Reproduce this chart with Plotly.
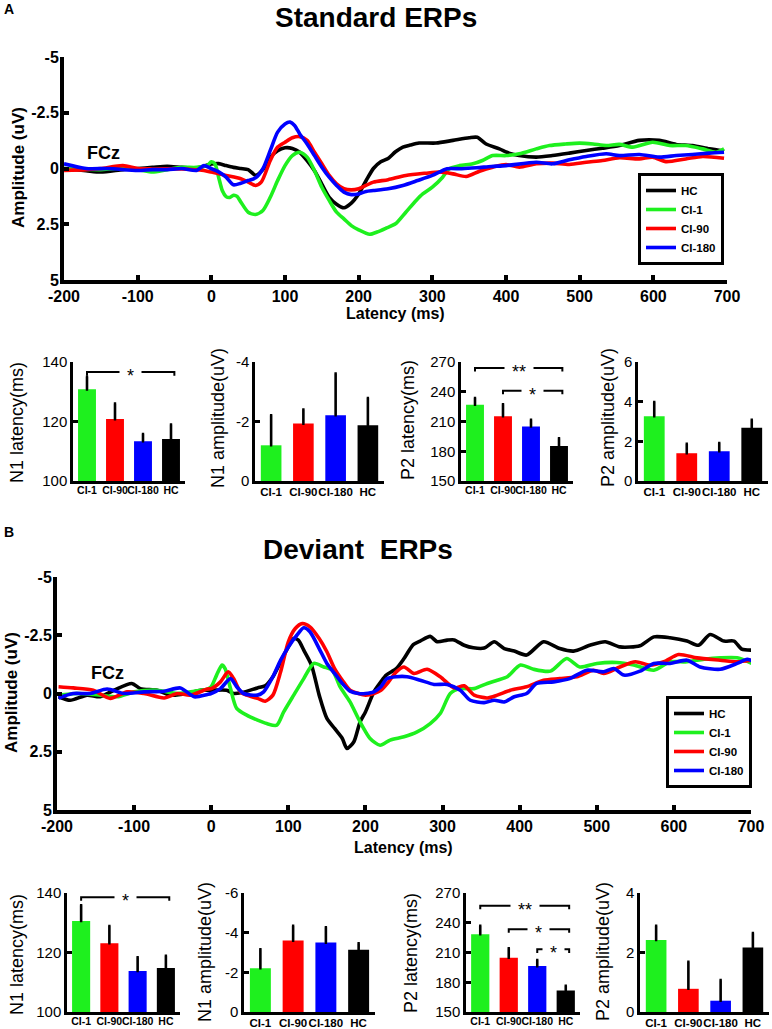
import plotly.graph_objects as go

W, H = 772, 1029
GREEN, RED, BLUE, BLACK = "#1ef01e", "#ff0000", "#0000ff", "#000000"

# ---------------- Panel A: Standard ERPs (FCz) ----------------
A_hc_t = [-200, -170, -150, -120, -100, -80, -60, -40, -20, 0, 10, 20, 30, 40, 50, 60, 70, 80, 90, 100, 110, 120,
          130, 140, 150, 160, 170, 180, 190, 200, 210, 220, 230, 240, 250, 260, 270, 282, 305, 328, 350, 361, 373,
          391, 404, 418, 441, 463, 486, 509, 531, 554, 581, 608, 631, 653, 676, 696]
A_hc = [0.0, 0.1, 0.16, 0.05, 0.0, -0.05, -0.1, -0.05, -0.02, -0.2, -0.22, -0.13, -0.05, 0.0, 0.05, 0.3, 0.05,
        -0.5, -0.8, -0.93, -0.9, -0.73, -0.35, 0.1, 0.7, 1.29, 1.6, 1.76, 1.55, 1.14, 0.55, 0.0, -0.3, -0.45,
        -0.75, -0.96, -1.05, -1.14, -1.14, -1.26, -1.38, -1.4, -1.1, -0.88, -0.69, -0.58, -0.51, -0.58, -0.69,
        -0.81, -0.91, -1.03, -1.26, -1.26, -1.08, -1.03, -0.88, -0.78]

A_ci1_t = [-200, -150, -130, -100, -80, -60, -40, -20, -5, 0, 5, 10, 15, 20, 25, 30, 35, 40, 50, 60, 70, 80, 90,
           100, 110, 120, 130, 140, 150, 160, 170, 180, 190, 200, 215, 225, 237, 250, 264, 278, 287, 300, 314, 323,
           337, 355, 368, 382, 400, 418, 441, 459, 481, 500, 518, 536, 554, 572, 599, 622, 644, 667, 685, 696]
A_ci1 = [0.0, 0.05, 0.0, 0.05, 0.16, 0.05, -0.05, -0.05, -0.15, -0.3, -0.2, 0.4, 1.0, 1.26, 1.3, 1.2, 1.25, 1.5,
         1.96, 2.06, 1.88, 1.29, 0.54, -0.13, -0.58, -0.73, -0.51, 0.09, 0.84, 1.43, 1.96, 2.26, 2.56, 2.75, 2.95,
         2.85, 2.68, 2.48, 1.96, 1.43, 1.14, 0.84, 0.39, 0.01, -0.13, -0.21, -0.36, -0.58, -0.58, -0.66, -0.88,
         -1.03, -1.1, -1.14, -1.1, -1.03, -1.08, -0.96, -1.18, -1.03, -1.03, -0.88, -0.73, -0.88]

A_ci90_t = [-200, -170, -150, -120, -100, -80, -40, -10, 0, 20, 40, 50, 60, 68, 80, 90, 100, 110, 120, 130, 140,
            150, 160, 170, 180, 190, 200, 210, 220, 240, 264, 291, 310, 328, 346, 364, 382, 400, 418, 441, 463, 486,
            509, 531, 554, 581, 599, 617, 644, 667, 696]
A_ci90 = [0.09, 0.05, 0.0, -0.13, 0.0, 0.02, 0.02, 0.09, 0.16, 0.31, 0.46, 0.61, 0.76, 0.6, -0.36, -0.96, -1.18,
          -1.38, -1.43, -1.26, -0.73, -0.21, 0.31, 0.69, 0.91, 0.96, 0.91, 0.76, 0.61, 0.5, 0.31, 0.21, 0.16, 0.24,
          0.36, 0.12, -0.06, -0.18, -0.06, -0.21, -0.24, -0.18, -0.28, -0.36, -0.48, -0.43, -0.51, -0.31, -0.43,
          -0.54, -0.46]

A_ci180_t = [-200, -170, -140, -100, -80, -60, -40, -20, -10, 0, 10, 20, 30, 40, 50, 60, 70, 80, 90, 100, 107, 113,
             120, 130, 140, 150, 160, 170, 180, 190, 200, 210, 220, 240, 260, 280, 300, 320, 340, 360, 380, 400, 441,
             463, 486, 509, 536, 554, 581, 608, 631, 653, 676, 696]
A_ci180 = [-0.21, 0.0, 0.0, 0.09, 0.05, 0.05, 0.0, 0.09, -0.13, 0.01, 0.15, 0.39, 0.73, 0.66, 0.54, 0.42, 0.01,
           -0.81, -1.63, -2.0, -2.08, -1.93, -1.55, -1.1, -0.58, -0.06, 0.39, 0.76, 1.06, 1.17, 1.14, 1.03, 0.99,
           0.91, 0.76, 0.54, 0.31, 0.01, 0.01, -0.03, -0.09, -0.13, -0.28, -0.21, -0.39, -0.54, -0.66, -0.58, -0.63,
           -0.51, -0.58, -0.63, -0.69, -0.73]

# ---------------- Panel B: Deviant ERPs (FCz) ----------------
B_hc_t = [-198, -183, -161, -144, -126, -103, -92, -70, -53, -31, -14, 0, 20, 29, 40, 60, 70, 80, 90, 100, 107,
          113, 120, 130, 140, 150, 160, 170, 176, 185, 193, 200, 211, 220, 227, 240, 250, 262, 271, 284, 293, 306,
          315, 328, 340, 354, 367, 380, 393, 409, 431, 452, 470, 491, 511, 530, 556, 574, 595, 617, 632, 647, 665,
          678, 688, 701]
B_hc = [0.14, 0.29, 0.07, 0.14, -0.14, -0.43, -0.21, -0.14, 0.07, 0.0, -0.14, -0.14, -0.14, 0.0, -0.04, -0.24,
        -0.33, -0.72, -1.36, -2.0, -2.36, -2.29, -1.86, -1.22, 0.07, 1.07, 1.5, 1.93, 2.36, 2.07, 1.22, 0.79, -0.07,
        -0.5, -0.79, -1.07, -1.5, -2.1, -2.25, -2.45, -2.22, -2.29, -2.3, -2.07, -1.96, -1.95, -2.22, -1.93, -1.82,
        -1.65, -2.22, -1.93, -1.82, -2.07, -2.22, -2.0, -2.05, -2.43, -2.39, -2.25, -2.07, -2.53, -2.25, -2.25,
        -1.9, -1.86]

B_ci1_t = [-198, -174, -144, -122, -100, -70, -44, -22, -5, 0, 7, 14, 18, 25, 33, 46, 60, 72, 85, 94, 107, 120,
           133, 146, 157, 167, 180, 193, 206, 219, 232, 250, 267, 284, 297, 310, 323, 341, 358, 371, 384, 401, 418,
           440, 461, 478, 500, 526, 548, 574, 595, 617, 639, 660, 682, 701]
B_ci1 = [0.07, 0.0, 0.07, 0.14, -0.07, -0.14, 0.0, -0.1, -0.19, -0.29, -0.79, -1.22, -1.07, -0.21, 0.64, 0.93,
         1.14, 1.29, 1.36, 0.79, 0.07, -0.64, -1.29, -1.14, -1.0, -0.29, 0.36, 1.22, 1.93, 2.22, 2.0, 1.86, 1.65,
         1.29, 0.86, 0.0, -0.21, -0.21, -0.43, -0.57, -0.72, -1.22, -1.04, -0.96, -1.5, -1.14, -1.29, -1.33, -1.22,
         -1.0, -1.36, -1.36, -1.47, -1.53, -1.53, -1.29]

B_ci90_t = [-198, -179, -153, -131, -109, -87, -61, -44, -27, -5, 0, 12, 22, 29, 38, 46, 60, 70, 80, 90, 100, 109,
            118, 128, 140, 150, 160, 170, 180, 191, 200, 211, 220, 230, 240, 250, 263, 280, 297, 315, 328, 341, 358,
            371, 388, 409, 431, 452, 474, 496, 509, 530, 550, 569, 587, 606, 630, 660, 682, 701]
B_ci90 = [-0.29, -0.24, -0.14, 0.21, -0.07, 0.0, 0.19, 0.0, 0.07, -0.19, -0.21, -0.5, -0.93, -0.64, -0.07, 0.07,
          0.21, 0.33, 0.07, -0.93, -2.22, -2.79, -3.0, -2.86, -2.36, -1.79, -1.07, -0.57, -0.14, 0.0, 0.07, 0.0,
          -0.14, -0.5, -0.93, -1.14, -0.86, -1.04, -0.72, -0.24, -0.33, 0.07, 0.19, 0.07, -0.14, -0.29, -0.57,
          -0.64, -0.72, -1.0, -0.86, -1.14, -1.36, -1.22, -1.36, -1.67, -1.53, -1.43, -1.36, -1.43]

B_ci180_t = [-198, -179, -157, -135, -113, -87, -61, -40, -22, -5, 0, 12, 25, 33, 42, 60, 68, 80, 90, 100, 111,
             120, 128, 140, 150, 160, 170, 180, 191, 200, 211, 220, 228, 240, 254, 271, 289, 306, 323, 336, 354, 367,
             380, 393, 409, 422, 444, 465, 487, 509, 522, 535, 556, 574, 595, 617, 634, 660, 682, 695, 702]
B_ci180 = [0.19, 0.0, 0.0, -0.19, 0.0, -0.07, -0.1, -0.24, 0.14, 0.04, 0.0, -0.21, -0.64, -0.29, 0.0, 0.07, -0.07,
           -0.72, -1.43, -2.0, -2.5, -2.82, -2.65, -1.93, -1.29, -0.86, -0.43, -0.1, 0.0, 0.0, -0.07, -0.29, -0.64,
           -0.72, -0.72, -0.57, -0.39, -0.39, -0.14, 0.29, 0.39, 0.29, 0.36, 0.14, 0.0, -0.43, -0.5, -0.64, -1.0,
           -0.93, -1.07, -0.79, -0.96, -1.29, -1.29, -1.43, -1.14, -1.04, -1.29, -1.47, -1.39]

wave_x_ticks = [-200, -100, 0, 100, 200, 300, 400, 500, 600, 700]
wave_x_labels = ["-200", "-100", "0", "100", "200", "300", "400", "500", "600", "700"]
wave_y_ticks = [-5, -2.5, 0, 2.5, 5]
wave_y_labels = ["-5", "-2.5", "0", "2.5", "5"]

# ---------------- Bar charts ----------------
bar_cats = ["CI-1", "CI-90", "CI-180", "HC"]
bar_colors = [GREEN, RED, BLUE, BLACK]

A_n1_lat = [130.8, 120.8, 113.4, 114.1]
A_n1_lat_err = [4.2, 5.2, 2.4, 4.9]
A_n1_amp = [-1.2, -1.93, -2.21, -1.87]
A_n1_amp_err = [1.01, 0.47, 1.4, 0.92]
A_p2_lat = [226.9, 215.4, 205.0, 185.4]
A_p2_lat_err = [6.7, 12.0, 6.7, 7.7]
A_p2_amp = [3.27, 1.40, 1.50, 2.68]
A_p2_amp_err = [0.71, 0.47, 0.41, 0.41]

B_n1_lat = [130.6, 123.1, 113.8, 114.8]
B_n1_lat_err = [5.3, 5.8, 4.6, 4.1]
B_n1_amp = [-2.21, -3.60, -3.50, -3.14]
B_n1_amp_err = [0.95, 0.74, 0.77, 0.32]
B_p2_lat = [228.4, 204.8, 196.3, 171.6]
B_p2_lat_err = [8.5, 9.4, 6.1, 4.8]
B_p2_amp = [2.42, 0.78, 0.38, 2.17]
B_p2_amp_err = [0.48, 0.91, 0.69, 0.48]

# significance brackets: (from index, to index, level, label)
A_n1_lat_sig = [(0, 3, 136.6, "*")]
A_p2_lat_sig = [(0, 3, 263.9, "**"), (1, 3, 241.0, "*")]
B_n1_lat_sig = [(0, 3, 138.6, "*")]
B_p2_lat_sig = [(0, 3, 257.2, "**"), (1, 3, 233.5, "*"), (2, 3, 213.2, "*")]


def fx(p):
    return p / W


def fy(p):
    return 1 - p / H


fig = go.Figure()
ann = []
shapes = []
layout = {}

BOLD = dict(family="Arial", color="black", weight="bold")


def waveform(n, series, xdom, ydom, legend_name):
    xa = "x" if n == 1 else f"x{n}"
    ya = "y" if n == 1 else f"y{n}"
    for (name, col, t, v) in series:
        fig.add_trace(go.Scatter(x=t, y=v, mode="lines", name=name,
                                 line=dict(color=col, width=3.6, shape="spline", smoothing=0.7),
                                 xaxis=xa, yaxis=ya, legend=legend_name, showlegend=True))
    kx = "xaxis" if n == 1 else f"xaxis{n}"
    ky = "yaxis" if n == 1 else f"yaxis{n}"
    layout[kx] = dict(domain=[fx(xdom[0]), fx(xdom[1])], anchor=ya, range=[-200, 700],
                      tickvals=wave_x_ticks, ticktext=wave_x_labels, ticks="inside", ticklen=5, tickwidth=4,
                      tickcolor="black", showline=True, linewidth=4, linecolor="black", showgrid=False,
                      zeroline=False, tickfont=dict(BOLD, size=16), automargin=False, ticklabelstandoff=-1)
    layout[ky] = dict(domain=[fy(ydom[1]), fy(ydom[0])], anchor=xa, range=[5, -5],
                      tickvals=wave_y_ticks, ticktext=wave_y_labels, ticks="inside", ticklen=5, tickwidth=4,
                      tickcolor="black", showline=True, linewidth=4, linecolor="black", showgrid=False,
                      zeroline=False, tickfont=dict(BOLD, size=16), automargin=False, ticklabelstandoff=-2)


waveform(1, [("HC", BLACK, A_hc_t, A_hc), ("CI-1", GREEN, A_ci1_t, A_ci1),
             ("CI-90", RED, A_ci90_t, A_ci90), ("CI-180", BLUE, A_ci180_t, A_ci180)],
         (64, 727), (57, 280), "legend")
waveform(2, [("HC", BLACK, B_hc_t, B_hc), ("CI-1", GREEN, B_ci1_t, B_ci1),
             ("CI-90", RED, B_ci90_t, B_ci90), ("CI-180", BLUE, B_ci180_t, B_ci180)],
         (57, 751), (577, 810), "legend2")


def barchart(n, vals, errs, xdom, ydom, yrange, yticks, sig, catsize):
    xa, ya = f"x{n}", f"y{n}"
    negative = yrange[1] < yrange[0]
    if negative:
        ey = dict(type="data", symmetric=False, array=[0] * len(errs), arrayminus=errs)
    else:
        ey = dict(type="data", symmetric=False, array=errs, arrayminus=[0] * len(errs))
    ey.update(color="black", thickness=2.6, width=1.2)
    fig.add_trace(go.Bar(x=list(range(len(bar_cats))), y=vals, width=0.64,
                         marker=dict(color=bar_colors, line=dict(width=0)),
                         error_y=ey, xaxis=xa, yaxis=ya, showlegend=False))
    layout[f"xaxis{n}"] = dict(domain=[fx(xdom[0]), fx(xdom[1])], anchor=ya, range=[-0.5, 3.5],
                               tickvals=list(range(len(bar_cats))), ticktext=bar_cats, ticks="",
                               tickangle=0, showline=True, linewidth=2.5, linecolor="black", showgrid=False,
                               zeroline=False, tickfont=dict(BOLD, size=catsize), automargin=False,
                               ticklabelstandoff=-2)
    layout[f"yaxis{n}"] = dict(domain=[fy(ydom[1]), fy(ydom[0])], anchor=xa, range=yrange,
                               tickvals=yticks, ticktext=[str(v) for v in yticks], ticks="inside",
                               ticklen=5, tickwidth=2.5, tickcolor="black", showline=True, linewidth=2.5,
                               linecolor="black", showgrid=False, zeroline=False, automargin=False,
                               tickfont=dict(family="Arial", size=15, color="black"))
    span = abs(yrange[1] - yrange[0])
    d = 0.03 * span
    for (i, j, lev, lab) in sig:
        x0, x1 = i, j + 0.12
        shapes.append(dict(type="path", xref=xa, yref=ya,
                           path=f"M {x0},{lev - d} L {x0},{lev} L {x1},{lev} L {x1},{lev - d}",
                           line=dict(color="black", width=2)))
        ann.append(dict(x=(x0 + x1) / 2, y=lev, xref=xa, yref=ya, text=f" {lab} ", showarrow=False,
                        font=dict(family="Arial", size=18, color="black"), bgcolor="white",
                        borderpad=2, yshift=-4))


barchart(3, A_n1_lat, A_n1_lat_err, (73, 185), (362, 481), [100, 140], [100, 120, 140], A_n1_lat_sig, 10.5)
barchart(4, A_n1_amp, A_n1_amp_err, (255, 384), (362, 481), [0, -4], [0, -2, -4], [], 11.5)
barchart(5, A_p2_lat, A_p2_lat_err, (461, 573), (362, 481), [150, 270], [150, 180, 210, 240, 270],
         A_p2_lat_sig, 10.5)
barchart(6, A_p2_amp, A_p2_amp_err, (638, 768), (362, 481), [0, 6], [0, 2, 4, 6], [], 11.5)
barchart(7, B_n1_lat, B_n1_lat_err, (67, 180), (893, 1012), [100, 140], [100, 120, 140], B_n1_lat_sig, 10.5)
barchart(8, B_n1_amp, B_n1_amp_err, (244, 375), (893, 1012), [0, -6], [0, -2, -4, -6], [], 11.5)
barchart(9, B_p2_lat, B_p2_lat_err, (466, 580), (893, 1012), [150, 270], [150, 180, 210, 240, 270],
         B_p2_lat_sig, 10.5)
barchart(10, B_p2_amp, B_p2_amp_err, (640, 769), (893, 1012), [0, 4], [0, 2, 4], [], 11.5)


def text(x, y, s, size, bold=True, angle=0, xanchor="center"):
    f = dict(family="Arial", size=size, color="black")
    if bold:
        f["weight"] = "bold"
    ann.append(dict(x=fx(x), y=fy(y), xref="paper", yref="paper", text=s, showarrow=False, font=f,
                    textangle=angle, xanchor=xanchor, yanchor="middle"))


# titles and labels
text(376, 17, "Standard ERPs", 28)
text(358, 549, "Deviant  ERPs", 28)
text(2, 9, "A", 14, xanchor="left")
text(2, 532, "B", 14, xanchor="left")
text(103, 153, "FCz", 18)
text(107, 673, "FCz", 18)
text(19, 168, "Amplitude (uV)", 17, angle=-90)
text(11, 693, "Amplitude (uV)", 17, angle=-90)
text(395, 313, "Latency (ms)", 16)
text(403, 847, "Latency (ms)", 16)

# bar chart axis titles
text(17, 423, "N1 latency(ms)", 18, bold=False, angle=-90)
text(218, 418, "N1 amplitude(uV)", 18, bold=False, angle=-90)
text(408, 420, "P2 latency(ms)", 18, bold=False, angle=-90)
text(608, 418, "P2 amplitude(uV)", 18, bold=False, angle=-90)
text(17, 955, "N1 latency(ms)", 18, bold=False, angle=-90)
text(205, 952, "N1 amplitude(uV)", 18, bold=False, angle=-90)
text(411, 953, "P2 latency(ms)", 18, bold=False, angle=-90)
text(603, 952, "P2 amplitude(uV)", 18, bold=False, angle=-90)

legend_style = dict(bordercolor="black", borderwidth=3, bgcolor="white",
                    font=dict(family="Arial", size=11.5, color="black", weight="bold"),
                    itemwidth=30, tracegroupgap=0, xanchor="right", yanchor="top")

fig.update_layout(
    width=W, height=H, margin=dict(l=0, r=0, t=0, b=0, autoexpand=False),
    paper_bgcolor="white", plot_bgcolor="white",
    showlegend=True, hovermode=False,
    legend=dict(legend_style, x=fx(724), y=fy(173)),
    legend2=dict(legend_style, x=fx(752), y=fy(696)),
    annotations=ann, shapes=shapes,
    **layout,
)

fig.write_html("out.html", config={"displayModeBar": False},
               post_script="document.body.style.margin='0px';document.body.style.overflow='hidden';")
